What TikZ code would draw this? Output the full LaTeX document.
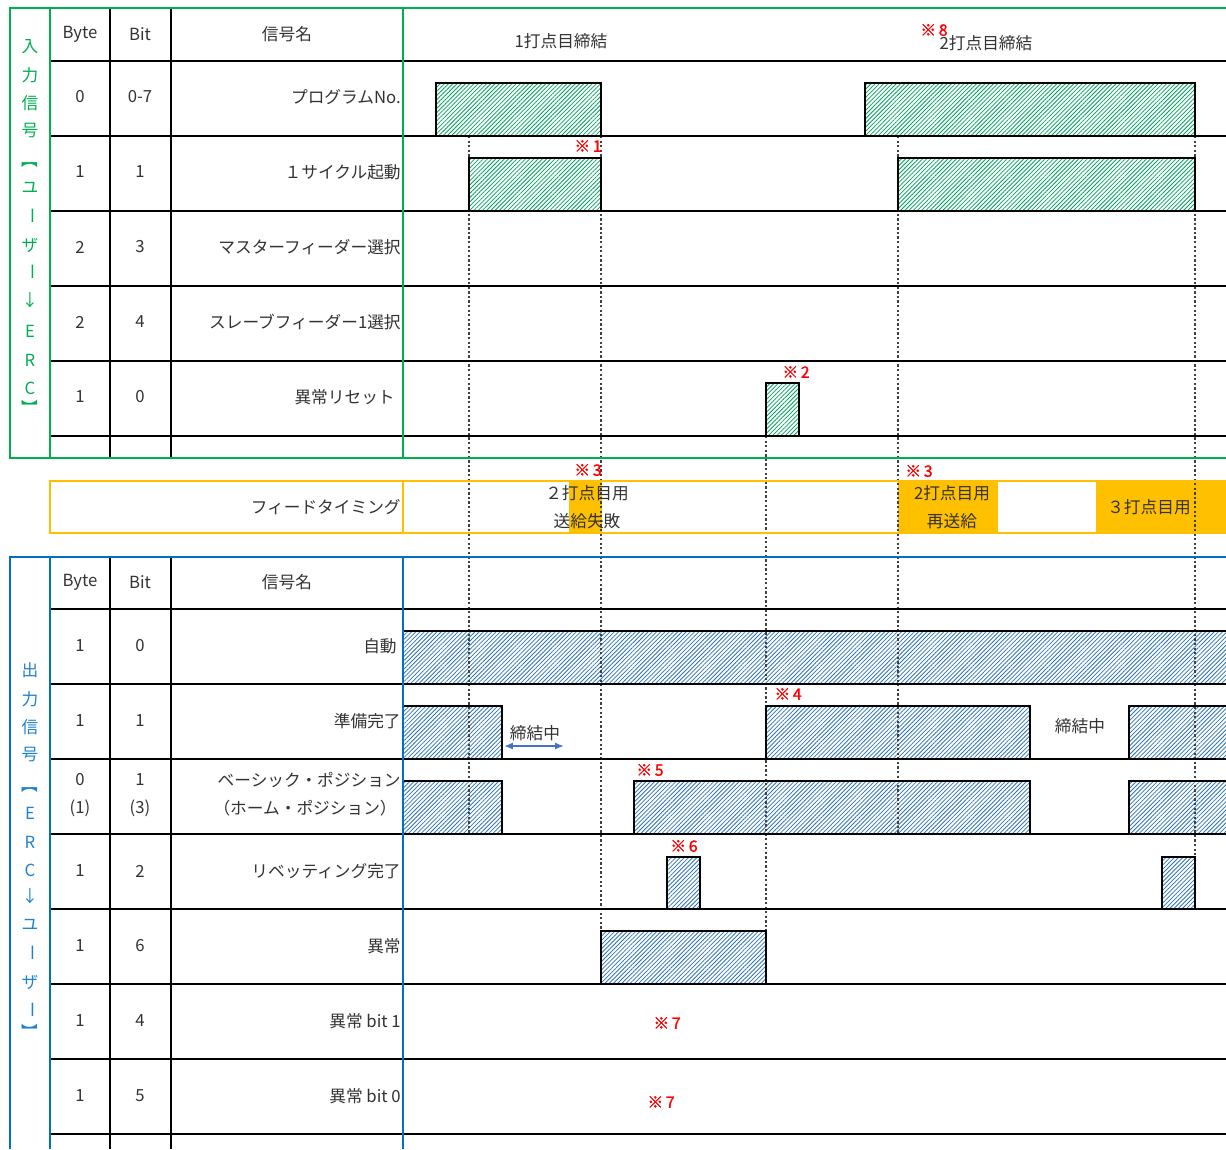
\documentclass[tikz,border=0pt]{standalone}
\usepackage{fontspec}
\setmainfont{Noto Sans CJK JP}
\newfontfamily\notefont[FakeBold=1.5]{Noto Sans CJK JP}
\usetikzlibrary{patterns.meta,arrows.meta}
\definecolor{grn}{RGB}{0,176,80}
\definecolor{blu}{RGB}{0,112,192}
\definecolor{org}{RGB}{255,192,0}
\definecolor{txt}{RGB}{51,51,51}
\definecolor{ghatch}{RGB}{0,165,95}
\definecolor{bhatch}{RGB}{46,117,182}
\definecolor{arr}{RGB}{68,114,196}
\definecolor{vblu}{RGB}{30,130,210}
\begin{document}
\begin{tikzpicture}[x=0.02cm,y=-0.02cm,
  every node/.style={font=\fontsize{9.5pt}{11pt}\selectfont, text=txt, inner sep=0pt},
  tline/.style={line width=0.7pt, black},
  wave/.style={line width=1.4pt, black, line join=miter},
  gfill/.style={pattern={Lines[angle=45,distance=1.7pt,line width=0.45pt]}, pattern color=ghatch},
  bfill/.style={pattern={Lines[angle=45,distance=1.7pt,line width=0.45pt]}, pattern color=bhatch},
  vline/.style={line width=0.6pt, black!75, dash pattern=on 1.3pt off 1.3pt},
  note/.style={font=\notefont\fontsize{9pt}{10pt}\selectfont, text=red},
  gframe/.style={line width=1.3pt, grn},
  bframe/.style={line width=1.3pt, blu},
  oframe/.style={line width=1.3pt, org},
  sname/.style={anchor=east},
]
\useasboundingbox (0,0) rectangle (1226,1149);
\fill[white] (0,0) rectangle (1226,1149);

% ---------- fills ----------
% feed timing
\fill[org] (569,481) rectangle (602,533);
\fill[org] (898,481) rectangle (998,533);
\fill[org] (1096,481) rectangle (1226,533);
% input pulses
\fill[gfill] (436,83) rectangle (601,136);
\fill[gfill] (865,83) rectangle (1195,136);
\fill[gfill] (469,158) rectangle (601,211);
\fill[gfill] (898,158) rectangle (1195,211);
\fill[gfill] (766,383) rectangle (799,436);
% output pulses
\fill[bfill] (403,631) rectangle (1226,684);
\fill[bfill] (403,706) rectangle (502,759);
\fill[bfill] (766,706) rectangle (1030,759);
\fill[bfill] (1129,706) rectangle (1226,759);
\fill[bfill] (403,781) rectangle (502,834);
\fill[bfill] (634,781) rectangle (1030,834);
\fill[bfill] (1129,781) rectangle (1226,834);
\fill[bfill] (667,857) rectangle (700,909);
\fill[bfill] (1162,857) rectangle (1195,909);
\fill[bfill] (601,931) rectangle (766,984);

% ---------- dashed time markers ----------
\draw[vline] (469,136) -- (469,833);
\draw[vline] (601,136) -- (601,931);
\draw[vline] (766,436) -- (766,931);
\draw[vline] (898,136) -- (898,833);
\draw[vline] (1195,136) -- (1195,857);

% ---------- upper table ----------
\draw[tline] (50,61) -- (1226,61);
\foreach \y in {136,211,286,361,436} {
  \draw[tline] (50,\y) -- (403,\y);
  \draw[wave] (403,\y) -- (1226,\y);
}
\draw[tline] (110,8) -- (110,458);
\draw[tline] (171,8) -- (171,458);
% input waveforms
\draw[wave] (436,136) -- (436,83) -- (601,83) -- (601,136);
\draw[wave] (865,136) -- (865,83) -- (1195,83) -- (1195,136);
\draw[wave] (469,211) -- (469,158) -- (601,158) -- (601,211);
\draw[wave] (898,211) -- (898,158) -- (1195,158) -- (1195,211);
\draw[wave] (766,436) -- (766,383) -- (799,383) -- (799,436);
% green frame
\draw[gframe] (1226,8) -- (10,8) -- (10,458) -- (1226,458);
\draw[gframe] (50,8) -- (50,458);
\draw[gframe] (403,8) -- (403,458);

% ---------- feed timing row ----------
\draw[oframe] (1226,481) -- (50,481) -- (50,533) -- (1226,533);
\draw[oframe] (403,481) -- (403,533);

% ---------- lower table ----------
\draw[tline] (50,609) -- (1226,609);
\foreach \y in {684,759,834,909,984,1059,1134} {
  \draw[tline] (50,\y) -- (403,\y);
  \draw[wave] (403,\y) -- (1226,\y);
}
\draw[tline] (110,557) -- (110,1149);
\draw[tline] (171,557) -- (171,1149);
% output waveforms
\draw[wave] (403,631) -- (1226,631);
\draw[wave] (403,706) -- (502,706) -- (502,759);
\draw[wave] (766,759) -- (766,706) -- (1030,706) -- (1030,759);
\draw[wave] (1129,759) -- (1129,706) -- (1226,706);
\draw[wave] (403,781) -- (502,781) -- (502,834);
\draw[wave] (634,834) -- (634,781) -- (1030,781) -- (1030,834);
\draw[wave] (1129,834) -- (1129,781) -- (1226,781);
\draw[wave] (667,909) -- (667,857) -- (700,857) -- (700,909);
\draw[wave] (1162,909) -- (1162,857) -- (1195,857) -- (1195,909);
\draw[wave] (601,984) -- (601,931) -- (766,931) -- (766,984);
% blue frame
\draw[bframe] (1226,557) -- (10,557) -- (10,1149);
\draw[bframe] (50,557) -- (50,1149);
\draw[bframe] (403,557) -- (403,1149);

% ---------- vertical side labels ----------
\foreach \c/\y/\r [count=\i] in {入/47/0,力/75/0,信/103/0,号/131/0,【/160/-90,ユ/188/0,ー/216/-90,ザ/245/0,ー/272/-90,↓/300/0,E/331/0,R/360/0,C/388/0,】/408/-90}
  \node[text=grn, rotate=\r] (vg\i) at (30,\y) {\c};
\foreach \c/\y/\r [count=\i] in {出/670/0,力/699/0,信/727/0,号/755/0,【/785/-90,E/813/0,R/842/0,C/870/0,↓/896/0,ユ/925/0,ー/953/-90,ザ/982/0,ー/1010/-90,】/1032/-90}
  \node[text=vblu, rotate=\r] (vb\i) at (30,\y) {\c};

% ---------- upper table text ----------
\node (hByte1) at (80,34) {Byte};
\node (hBit1) at (140,34) {Bit};
\node (hName1) at (287,34) {信号名};
\node (hT1) at (561,41) {1打点目締結};
\node (hT2) at (986,43) {2打点目締結};

\node (b1) at (80,97) {0};   \node (t1) at (140,97) {0-7};
\node[sname] (s1) at (401,97) {プログラムNo.};
\node (b2) at (80,172) {1};  \node (t2) at (140,172) {1};
\node[sname] (s2) at (401,172) {１サイクル起動};
\node (b3) at (80,247) {2};  \node (t3) at (140,247) {3};
\node[sname] (s3) at (401,247) {マスターフィーダー選択};
\node (b4) at (80,322) {2};  \node (t4) at (140,322) {4};
\node[sname] (s4) at (401,322) {スレーブフィーダー1選択};
\node (b5) at (80,397) {1};  \node (t5) at (140,397) {0};
\node[sname] (s5) at (395,397) {異常リセット};

% ---------- feed row text ----------
\node[sname] (sf) at (401,507) {フィードタイミング};
\node (f1a) at (587,493) {２打点目用};
\node (f1b) at (587,521) {送給失敗};
\node (f2a) at (952,493) {2打点目用};
\node (f2b) at (952,521) {再送給};
\node (f3) at (1149,507) {３打点目用};

% ---------- lower table text ----------
\node (hByte2) at (80,582) {Byte};
\node (hBit2) at (140,582) {Bit};
\node (hName2) at (287,582) {信号名};

\node (c1) at (80,646) {1};  \node (u1) at (140,646) {0};
\node[sname] (r1) at (397,646) {自動};
\node (c2) at (80,721) {1};  \node (u2) at (140,721) {1};
\node[sname] (r2) at (401,721) {準備完了};
\node (c3) at (80,780) {0};  \node (u3) at (140,780) {1};
\node (c3b) at (80,808) {(1)}; \node (u3b) at (140,808) {(3)};
\node[sname] (r3) at (401,780) {ベーシック・ポジション};
\node[sname] (r3b) at (397,808) {（ホーム・ポジション）};
\node (c4) at (80,871) {1};  \node (u4) at (140,871) {2};
\node[sname] (r4) at (401,871) {リベッティング完了};
\node (c5) at (80,946) {1};  \node (u5) at (140,946) {6};
\node[sname] (r5) at (401,946) {異常};
\node (c6) at (80,1021) {1}; \node (u6) at (140,1021) {4};
\node[sname] (r6) at (401,1021) {異常 bit 1};
\node (c7) at (80,1096) {1}; \node (u7) at (140,1096) {5};
\node[sname] (r7) at (401,1096) {異常 bit 0};

% fastening annotations
\coordinate (ka1) at (504,746);
\coordinate (ka2) at (564,746);
\draw[arr, line width=1pt, {Latex[length=5pt,width=4pt]}-{Latex[length=5pt,width=4pt]}] (ka1) -- (ka2);
\node (k1) at (535,733) {締結中};
\node (k2) at (1080,726) {締結中};

% ---------- notes ----------
\node[note] (n8) at (934,30) {※\,8};
\node[note] (n1) at (588,146) {※\,1};
\node[note] (n2) at (796,372) {※\,2};
\node[note] (n3a) at (588,470) {※\,3};
\node[note] (n3b) at (919,471) {※\,3};
\node[note] (n4) at (788,694) {※\,4};
\node[note] (n5) at (650,770) {※\,5};
\node[note] (n6) at (684,846) {※\,6};
\node[note] (n7a) at (667,1023) {※\,7};
\node[note] (n7b) at (661,1102) {※\,7};
\end{tikzpicture}
\end{document}
